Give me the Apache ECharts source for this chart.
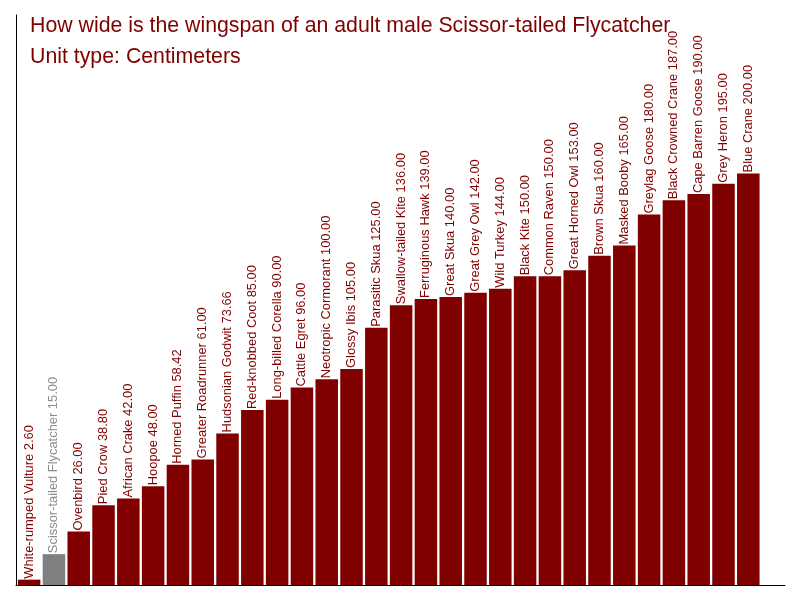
<!DOCTYPE html>
<html>
<head>
    <meta charset="utf-8">
    <title>Wingspan</title>
    <script src="https://cdn.jsdelivr.net/npm/echarts@6/dist/echarts.min.js"></script>
    <style>
        html, body { margin: 0; padding: 0; background: #fff; }
    </style>
</head>
<body>
<div id="main" style="width: 800px;height:600px;"></div>
<script type="text/javascript">
    var birds = ['White-rumped Vulture', 'Scissor-tailed Flycatcher', 'Ovenbird', 'Pied Crow',
        'African Crake', 'Hoopoe', 'Horned Puffin', 'Greater Roadrunner', 'Hudsonian Godwit',
        'Red-knobbed Coot', 'Long-billed Corella', 'Cattle Egret', 'Neotropic Cormorant',
        'Glossy Ibis', 'Parasitic Skua', 'Swallow-tailed Kite', 'Ferruginous Hawk', 'Great Skua',
        'Great Grey Owl', 'Wild Turkey', 'Black Kite', 'Common Raven', 'Great Horned Owl',
        'Brown Skua', 'Masked Booby', 'Greylag Goose', 'Black Crowned Crane', 'Cape Barren Goose',
        'Grey Heron', 'Blue Crane'];
    var wingspan = [2.6, 15, 26, 38.8, 42, 48, 58.42, 61, 73.66, 85, 90, 96, 100, 105, 125,
        136, 139, 140, 142, 144, 150, 150, 153, 160, 165, 180, 187, 190, 195, 200];
    var highlight = 'Scissor-tailed Flycatcher';

    var red = '#800000';
    var grey = '#808080';

    // bars on a value x axis so the axis line can run past the last bar
    var data = [];
    for (var i = 0; i < birds.length; i++) {
        var isHi = birds[i] === highlight;
        data.push({
            value: [i, wingspan[i]],
            name: birds[i],
            itemStyle: {color: isHi ? grey : red},
            label: {color: isHi ? '#8c8c8c' : red}
        });
    }

    var myChart = echarts.init(document.getElementById('main'));

    var option = {
        animation: false,
        title: {
            text: 'How wide is the wingspan of an adult male Scissor-tailed Flycatcher\nUnit type: Centimeters',
            left: 25,
            top: 6,
            textStyle: {
                color: red,
                fontFamily: 'Liberation Sans, Arial, sans-serif',
                fontSize: 21.3,
                fontWeight: 'normal',
                lineHeight: 31
            }
        },
        grid: {left: 16, right: 15, top: 15, bottom: 15, containLabel: false},
        xAxis: {
            type: 'value',
            min: -0.53,
            max: 30.48,
            axisLine: {show: true, onZero: false, lineStyle: {color: '#000', width: 1}},
            axisTick: {show: false},
            axisLabel: {show: false},
            splitLine: {show: false}
        },
        yAxis: {
            type: 'value',
            min: 0,
            max: 277,
            axisLine: {show: true, onZero: false, lineStyle: {color: '#000', width: 1}},
            axisTick: {show: false},
            axisLabel: {show: false},
            splitLine: {show: false}
        },
        series: [{
            type: 'bar',
            barWidth: 22.5,
            data: data,
            label: {
                show: true,
                position: 'top',
                rotate: 90,
                align: 'left',
                verticalAlign: 'middle',
                distance: 1,
                fontFamily: 'Liberation Sans, Arial, sans-serif',
                fontSize: 12.9,
                formatter: function (p) {
                    return p.name + ' ' + p.value[1].toFixed(2);
                }
            }
        }]
    };
    myChart.setOption(option);
</script>
</body>
</html>
